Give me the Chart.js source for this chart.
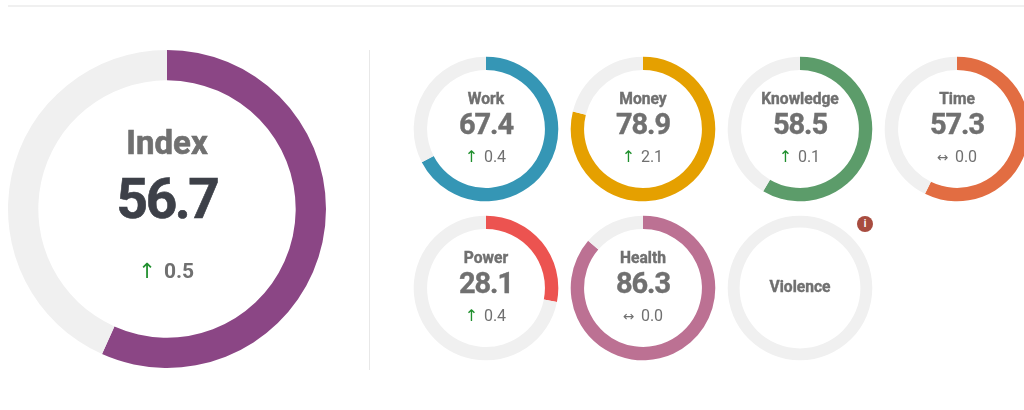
<!DOCTYPE html>
<html>
<head>
<meta charset="utf-8">
<title>Index</title>
<script src="https://cdn.jsdelivr.net/npm/chart.js@4"></script>
<style>
    html, body { margin: 0; padding: 0; background: #fff; width: 1024px; height: 410px; overflow: hidden; }
    canvas { position: absolute; }
    #topLine { position: absolute; left: 8px; right: 0; top: 5px; height: 2px; background: #f0f0f0; }
    #divider { position: absolute; left: 369px; top: 50px; width: 1px; height: 320px; background: #e8e8e8; }
    #info {
        position: absolute; left: 857px; top: 216px; width: 16px; height: 16px; border-radius: 50%;
        background: #a84c3f; color: #fff; font: bold 10px/16px Roboto, sans-serif; text-align: center;
    }
</style>
</head>
<body>
<div id="topLine"></div>
<div id="divider"></div>
<div id="info">i</div>
<script>
const labels = ['Index', 'Work', 'Money', 'Knowledge', 'Time', 'Power', 'Health', 'Violence'];
const scores = [56.7, 67.4, 78.9, 58.5, 57.3, 28.1, 86.3, null];
const changes = [0.5, 0.4, 2.1, 0.1, 0.0, 0.4, 0.0, null];
const colors = ['#8b4685', '#3596b5', '#e5a000', '#5c9c6a', '#e26d42', '#ec5350', '#bc7193', '#f0f0f0'];

const track = '#f0f0f0';
const font = 'Roboto, sans-serif';

const bigLayout = { size: 320, radius: 159, cutout: 129.5, titleSize: 33, scoreSize: 55, changeSize: 21, changeWeight: 'bold',
    titleY: -55, scoreY: 9, changeY: 69, changeX: 12, arrowX: -20, scoreSpacing: '-2.4px', heavy: 0.6 };
const smallLayout = { size: 146, radius: 72.3, cutout: 59.5, titleSize: 15.6, scoreSize: 29, changeSize: 16, changeWeight: 'normal',
    titleY: -25, scoreY: 5, changeY: 33, changeX: 9, arrowX: -14.5, scoreSpacing: '-1.1px', heavy: 0.4 };

const centers = [[167, 209], [485.6, 129], [643, 129], [800.3, 129], [957.3, 129], [485.6, 288.2], [643, 288.2], [800.3, 288.2]];

function boldText(ctx, text, x, y, heavy) {
    ctx.lineWidth = heavy;
    ctx.strokeStyle = ctx.fillStyle;
    ctx.strokeText(text, x, y);
    ctx.fillText(text, x, y);
}

const centerText = {
    id: 'centerText',
    afterDraw(chart, args, opts) {
        const ctx = chart.ctx;
        const l = opts.layout;
        const cx = chart.width / 2;
        const cy = chart.height / 2;
        ctx.save();
        ctx.textAlign = 'center';
        ctx.textBaseline = 'alphabetic';
        ctx.fillStyle = '#707070';
        ctx.font = `bold ${l.titleSize}px ${font}`;

        // nothing to show but the name when there is no score
        if (opts.score === null) {
            boldText(ctx, opts.label, cx, cy + 4, l.heavy);
            ctx.restore();
            return;
        }

        boldText(ctx, opts.label, cx, cy + l.titleY, l.heavy);

        ctx.font = `bold ${l.scoreSize}px ${font}`;
        ctx.letterSpacing = l.scoreSpacing;
        ctx.fillStyle = opts.big ? '#3d4048' : '#707070';
        boldText(ctx, opts.score.toFixed(1), cx, cy + l.scoreY, l.heavy);
        ctx.letterSpacing = '0px';

        ctx.font = `${l.changeWeight} ${l.changeSize}px ${font}`;
        ctx.fillStyle = '#707070';
        ctx.fillText(opts.change.toFixed(1), cx + l.changeX, cy + l.changeY);

        const up = opts.change > 0;
        ctx.font = `${up ? l.changeSize : l.changeSize * 0.85}px "DejaVu Sans", sans-serif`;
        ctx.fillStyle = up ? '#1f8f2d' : '#707070';
        ctx.fillText(up ? '↑' : '↔', cx + l.arrowX, cy + l.changeY);
        ctx.restore();
    }
};

labels.forEach((label, i) => {
    const layout = i === 0 ? bigLayout : smallLayout;
    const canvas = document.createElement('canvas');
    canvas.style.left = (centers[i][0] - layout.size / 2) + 'px';
    canvas.style.top = (centers[i][1] - layout.size / 2) + 'px';
    canvas.style.width = layout.size + 'px';
    canvas.style.height = layout.size + 'px';
    canvas.width = layout.size;
    canvas.height = layout.size;
    document.body.appendChild(canvas);

    const score = scores[i];
    new Chart(canvas, {
        type: 'doughnut',
        plugins: [centerText],
        data: {
            labels: [label, ''],
            datasets: [{
                data: score === null ? [0, 100] : [score, 100 - score],
                backgroundColor: [colors[i], track],
                borderWidth: 0,
                radius: layout.radius,
                cutout: i === 7 ? 61 : layout.cutout
            }]
        },
        options: {
            responsive: false,
            animation: false,
            plugins: {
                legend: { display: false },
                tooltip: { enabled: false },
                centerText: { label: label, score: score, change: changes[i], layout: layout, big: i === 0 }
            }
        }
    });
});
</script>
</body>
</html>
